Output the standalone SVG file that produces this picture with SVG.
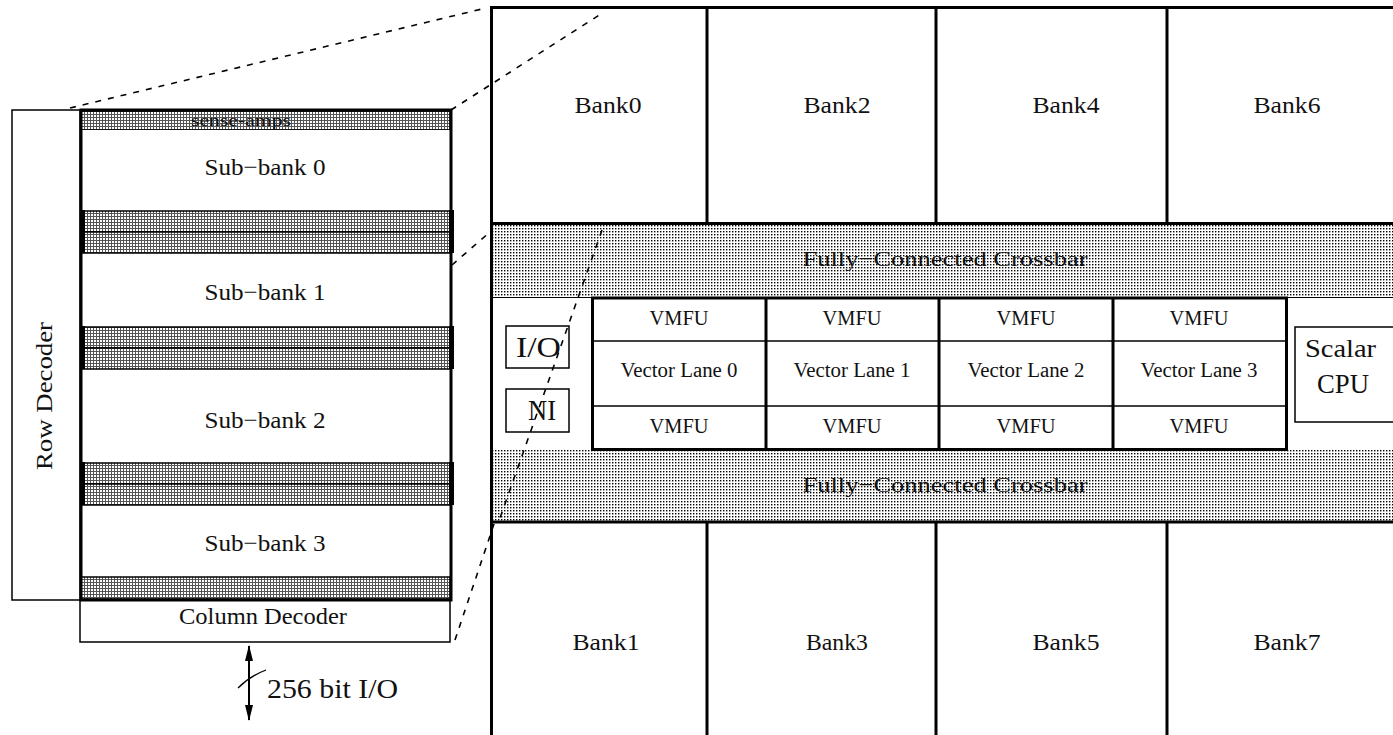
<svg xmlns="http://www.w3.org/2000/svg" width="1393" height="735" viewBox="0 0 1393 735">
<defs>
<style>
.t{font-family:"Liberation Serif","Times New Roman",serif;fill:#111;}
.thin{fill:none;stroke:#000;stroke-width:1.5;}
.thick{fill:none;stroke:#000;stroke-width:3;}
.dash{fill:none;stroke:#000;stroke-width:1.6;stroke-dasharray:6 7;}
.band{fill:url(#grid);stroke:#000;stroke-width:1.5;}
.xbar{fill:url(#dots);}
.edge{fill:#000;}
</style>
<pattern id="dots" width="3" height="3" patternUnits="userSpaceOnUse"><rect width="3" height="3" fill="#fff"/><rect width="1.4" height="1.4" fill="#000"/></pattern>
<pattern id="grid" width="3" height="3" patternUnits="userSpaceOnUse"><rect width="3" height="3" fill="#555"/><rect x="1" y="1" width="2" height="2" fill="#fff"/></pattern>
<marker id="ah" viewBox="0 0 16 10" refX="15" refY="5" markerWidth="16" markerHeight="10" markerUnits="userSpaceOnUse" orient="auto-start-reverse"><path d="M0,1 L16,5 L0,9 Z" fill="#000"/></marker>
</defs>
<rect width="1393" height="735" fill="#fff"/>

<!-- Left: bank detail -->
<g id="row-decoder">
<rect class="thin" x="12" y="110" width="68" height="490"/>
<text class="t" font-size="24" text-anchor="middle" transform="translate(52,396) rotate(-90)" textLength="148" lengthAdjust="spacingAndGlyphs">Row Decoder</text>
</g>
<g id="column-decoder">
<rect class="thin" x="80" y="600" width="370" height="42"/>
<text class="t" x="263" y="624" font-size="24" text-anchor="middle" textLength="168" lengthAdjust="spacingAndGlyphs">Column Decoder</text>
</g>
<g id="sense-amps">
<rect class="band" x="81" y="111" width="369" height="19"/>
<text class="t" x="241" y="126" font-size="17" text-anchor="middle" textLength="100" lengthAdjust="spacingAndGlyphs">sense-amps</text>
</g>
<g id="sub-bank-0">
<rect x="81" y="130" width="369" height="80" fill="#fff"/>
<text class="t" x="265" y="175" font-size="24" text-anchor="middle" textLength="121" lengthAdjust="spacingAndGlyphs">Sub−bank 0</text>
</g>
<g id="bands-01">
<rect class="band" x="82" y="211" width="369" height="21"/>
<rect class="band" x="82" y="232" width="369" height="21"/>
<rect class="edge" x="80" y="210" width="5" height="43"/>
<rect class="edge" x="449" y="210" width="5" height="43"/>
</g>
<g id="sub-bank-1">
<text class="t" x="265" y="300" font-size="24" text-anchor="middle" textLength="121" lengthAdjust="spacingAndGlyphs">Sub−bank 1</text>
</g>
<g id="bands-12">
<rect class="band" x="82" y="327" width="369" height="21"/>
<rect class="band" x="82" y="348" width="369" height="21"/>
<rect class="edge" x="80" y="326" width="5" height="43"/>
<rect class="edge" x="449" y="326" width="5" height="43"/>
</g>
<g id="sub-bank-2">
<text class="t" x="265" y="428" font-size="24" text-anchor="middle" textLength="121" lengthAdjust="spacingAndGlyphs">Sub−bank 2</text>
</g>
<g id="bands-23">
<rect class="band" x="82" y="463" width="369" height="21"/>
<rect class="band" x="82" y="484" width="369" height="21"/>
<rect class="edge" x="80" y="462" width="5" height="43"/>
<rect class="edge" x="449" y="462" width="5" height="43"/>
</g>
<g id="sub-bank-3">
<text class="t" x="265" y="551" font-size="24" text-anchor="middle" textLength="121" lengthAdjust="spacingAndGlyphs">Sub−bank 3</text>
</g>
<g id="bottom-band">
<rect class="band" x="81" y="577" width="369" height="22"/>
</g>
<g id="bank-outline">
<rect class="thick" x="81" y="110" width="370" height="490"/>
</g>
<g id="io-label">
<text class="t" x="267" y="698" font-size="28" textLength="131" lengthAdjust="spacingAndGlyphs">256 bit I/O</text>
</g>

<!-- Right: chip -->
<g id="crossbar-top">
<rect class="xbar" x="490" y="223" width="903" height="75"/>
<line x1="490" y1="297.5" x2="1393" y2="297.5" stroke="#000" stroke-width="1"/>
<text class="t" x="945" y="266" font-size="22" text-anchor="middle" textLength="285" lengthAdjust="spacingAndGlyphs">Fully−Connected Crossbar</text>
</g>
<g id="crossbar-bottom">
<rect class="xbar" x="490" y="450" width="903" height="72"/>
<text class="t" x="945" y="492" font-size="22" text-anchor="middle" textLength="285" lengthAdjust="spacingAndGlyphs">Fully−Connected Crossbar</text>
</g>
<g id="chip-frame">
<line class="thick" x1="490" y1="7.5" x2="1393" y2="7.5"/>
<line class="thick" x1="491.5" y1="6" x2="491.5" y2="735"/>
<line class="thick" x1="490" y1="223.5" x2="1393" y2="223.5"/>
<line class="thick" x1="490" y1="522" x2="1393" y2="522"/>
<line class="thick" x1="707" y1="7" x2="707" y2="223"/>
<line class="thick" x1="936" y1="7" x2="936" y2="223"/>
<line class="thick" x1="1167" y1="7" x2="1167" y2="223"/>
<line class="thick" x1="707" y1="522" x2="707" y2="735"/>
<line class="thick" x1="936" y1="522" x2="936" y2="735"/>
<line class="thick" x1="1167" y1="522" x2="1167" y2="735"/>
</g>
<g id="bank0"><text class="t" x="608" y="113" font-size="24" text-anchor="middle" textLength="67" lengthAdjust="spacingAndGlyphs">Bank0</text></g>
<g id="bank2"><text class="t" x="837" y="113" font-size="24" text-anchor="middle" textLength="67" lengthAdjust="spacingAndGlyphs">Bank2</text></g>
<g id="bank4"><text class="t" x="1066" y="113" font-size="24" text-anchor="middle" textLength="67" lengthAdjust="spacingAndGlyphs">Bank4</text></g>
<g id="bank6"><text class="t" x="1287" y="113" font-size="24" text-anchor="middle" textLength="67" lengthAdjust="spacingAndGlyphs">Bank6</text></g>
<g id="bank1"><text class="t" x="606" y="650" font-size="24" text-anchor="middle" textLength="67" lengthAdjust="spacingAndGlyphs">Bank1</text></g>
<g id="bank3"><text class="t" x="837" y="650" font-size="24" text-anchor="middle" textLength="62" lengthAdjust="spacingAndGlyphs">Bank3</text></g>
<g id="bank5"><text class="t" x="1066" y="650" font-size="24" text-anchor="middle" textLength="67" lengthAdjust="spacingAndGlyphs">Bank5</text></g>
<g id="bank7"><text class="t" x="1287" y="650" font-size="24" text-anchor="middle" textLength="67" lengthAdjust="spacingAndGlyphs">Bank7</text></g>

<g id="io-box">
<rect class="thin" x="506" y="326" width="63" height="42"/>
<text class="t" x="516" y="357" font-size="30" textLength="45" lengthAdjust="spacingAndGlyphs">I/O</text>
</g>
<g id="ni-box">
<rect class="thin" x="506" y="389" width="63" height="43"/>
<text class="t" x="528" y="420" font-size="30" textLength="28" lengthAdjust="spacingAndGlyphs">NI</text>
</g>
<g id="vector-lanes">
<rect class="thick" x="592.5" y="298" width="694" height="151.5"/>
<line class="thin" x1="592" y1="341" x2="1286" y2="341"/>
<line class="thin" x1="592" y1="406" x2="1286" y2="406"/>
<line class="thick" x1="766" y1="298" x2="766" y2="450"/>
<line class="thick" x1="939" y1="298" x2="939" y2="450"/>
<line class="thick" x1="1113" y1="298" x2="1113" y2="450"/>
</g>
<g id="lane0">
<text class="t" x="679" y="325" font-size="20" text-anchor="middle" textLength="59" lengthAdjust="spacingAndGlyphs">VMFU</text>
<text class="t" x="679" y="377" font-size="20" text-anchor="middle" textLength="117" lengthAdjust="spacingAndGlyphs">Vector Lane 0</text>
<text class="t" x="679" y="433" font-size="20" text-anchor="middle" textLength="59" lengthAdjust="spacingAndGlyphs">VMFU</text>
</g>
<g id="lane1">
<text class="t" x="852" y="325" font-size="20" text-anchor="middle" textLength="59" lengthAdjust="spacingAndGlyphs">VMFU</text>
<text class="t" x="852" y="377" font-size="20" text-anchor="middle" textLength="117" lengthAdjust="spacingAndGlyphs">Vector Lane 1</text>
<text class="t" x="852" y="433" font-size="20" text-anchor="middle" textLength="59" lengthAdjust="spacingAndGlyphs">VMFU</text>
</g>
<g id="lane2">
<text class="t" x="1026" y="325" font-size="20" text-anchor="middle" textLength="59" lengthAdjust="spacingAndGlyphs">VMFU</text>
<text class="t" x="1026" y="377" font-size="20" text-anchor="middle" textLength="117" lengthAdjust="spacingAndGlyphs">Vector Lane 2</text>
<text class="t" x="1026" y="433" font-size="20" text-anchor="middle" textLength="59" lengthAdjust="spacingAndGlyphs">VMFU</text>
</g>
<g id="lane3">
<text class="t" x="1199" y="325" font-size="20" text-anchor="middle" textLength="59" lengthAdjust="spacingAndGlyphs">VMFU</text>
<text class="t" x="1199" y="377" font-size="20" text-anchor="middle" textLength="117" lengthAdjust="spacingAndGlyphs">Vector Lane 3</text>
<text class="t" x="1199" y="433" font-size="20" text-anchor="middle" textLength="59" lengthAdjust="spacingAndGlyphs">VMFU</text>
</g>
<g id="scalar-cpu">
<rect class="thin" x="1295" y="327" width="110" height="95"/>
<text class="t" x="1305" y="357" font-size="26" textLength="71" lengthAdjust="spacingAndGlyphs">Scalar</text>
<text class="t" x="1317" y="393" font-size="27" textLength="52" lengthAdjust="spacingAndGlyphs">CPU</text>
</g>

<g id="connectors">
<line class="dash" x1="70" y1="108" x2="486" y2="8"/>
<line class="dash" x1="451" y1="110" x2="604" y2="12"/>
<line class="dash" x1="452" y1="265" x2="490" y2="232"/>
<line class="dash" x1="602" y1="230" x2="500" y2="518"/>
<line class="dash" x1="455" y1="640" x2="494" y2="524"/>
<line x1="249" y1="646" x2="249" y2="720" stroke="#000" stroke-width="2" marker-start="url(#ah)" marker-end="url(#ah)"/>
<path d="M238,688 Q250,676 266,670" fill="none" stroke="#000" stroke-width="1.3"/>
</g>
</svg>
